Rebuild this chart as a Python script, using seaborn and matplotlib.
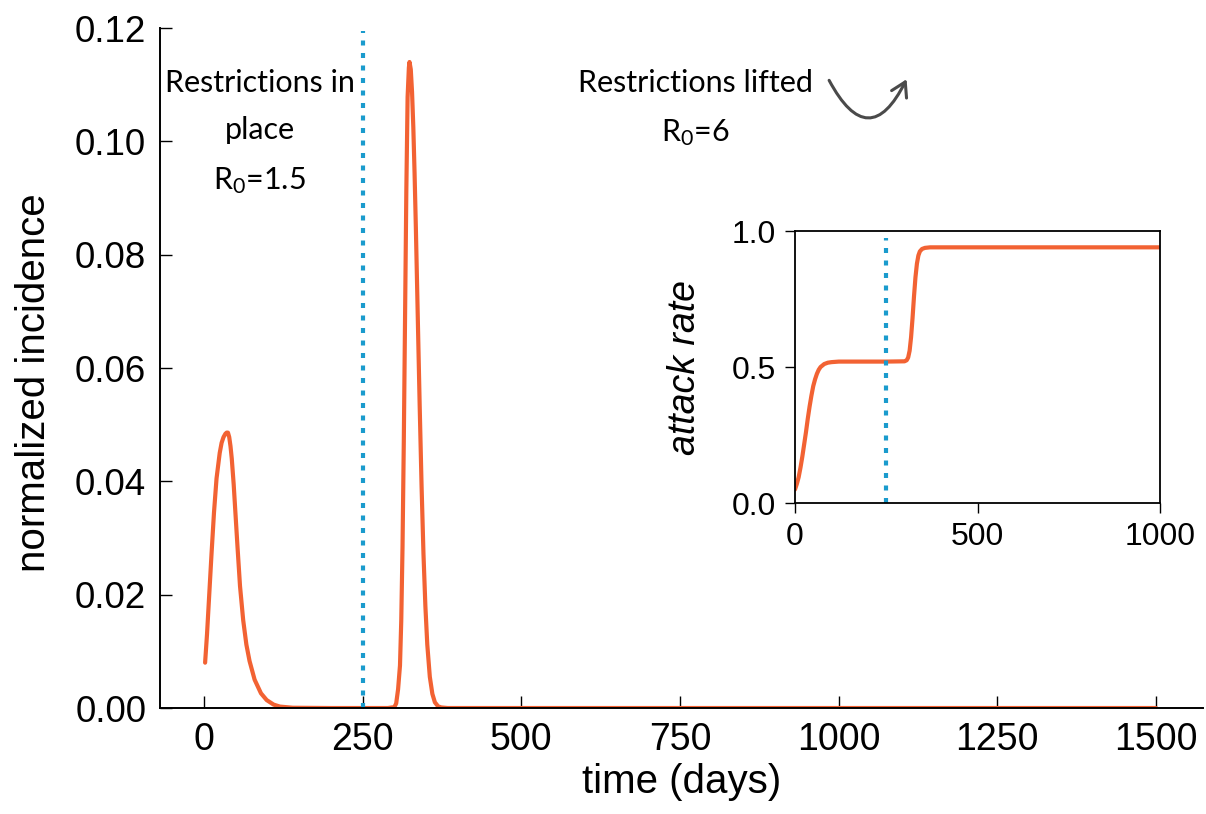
import matplotlib
matplotlib.use("Agg")
import matplotlib.pyplot as plt
import seaborn as sns
import pandas as pd
from matplotlib.patches import FancyArrowPatch

# incidence curve (main panel)
days = [2, 5, 8, 12, 16, 20, 25, 28, 31, 34, 36, 38, 40, 42, 44, 47, 50, 53,
        57, 62, 67, 72, 80, 90, 99, 110, 120, 140, 200, 250, 290, 296, 300,
        303, 306, 309, 311, 313, 315, 317, 319, 321, 323, 324, 326, 328, 330,
        332, 334, 337, 340, 343, 346, 349, 352, 356, 360, 364, 369, 374, 384,
        400, 500, 1000, 1500]
incidence = [0.0080, 0.0130, 0.0190, 0.0270, 0.0345, 0.0405, 0.0450, 0.0468,
             0.0478, 0.0484, 0.0486, 0.0486, 0.0478, 0.0462, 0.0440, 0.0395,
             0.0340, 0.0285, 0.0215, 0.0155, 0.0112, 0.0083, 0.0050, 0.0026,
             0.0014, 0.0006, 0.00025, 0.00005, 0.0, 0.0, 0.0, 0.0001, 0.00014,
             0.0008, 0.0033, 0.0075, 0.0154, 0.0284, 0.0469, 0.0691, 0.0913,
             0.1078, 0.1130, 0.1140, 0.1127, 0.1087, 0.1025, 0.0943, 0.0848,
             0.0691, 0.0535, 0.0392, 0.0272, 0.0180, 0.0112, 0.0055, 0.0025,
             0.0010, 0.0003, 0.0001, 0.0, 0.0, 0.0, 0.0, 0.0]

# cumulative attack rate (inset)
days_ar = [0, 5, 10, 15, 20, 25, 30, 35, 40, 45, 50, 55, 60, 65, 70, 80, 90,
           100, 120, 250, 300, 306, 310, 314, 318, 322, 326, 330, 334, 338,
           342, 348, 356, 370, 1000]
attack_rate = [0.05, 0.07, 0.095, 0.13, 0.17, 0.215, 0.26, 0.31, 0.355,
               0.395, 0.43, 0.455, 0.475, 0.49, 0.50, 0.511, 0.516, 0.518,
               0.52, 0.52, 0.521, 0.525, 0.535, 0.56, 0.61, 0.68, 0.76, 0.83,
               0.88, 0.91, 0.925, 0.934, 0.938, 0.94, 0.94]

lift_day = 250
x_ticks = [0, 250, 500, 750, 1000, 1250, 1500]
y_ticks = [0.00, 0.02, 0.04, 0.06, 0.08, 0.10, 0.12]
inset_x_ticks = [0, 500, 1000]
inset_y_ticks = [0.0, 0.5, 1.0]

orange = "#f26233"
blue = "#1a9bcd"

sns.set_style("ticks")
plt.rcParams['font.family'] = ['Liberation Sans', 'DejaVu Sans']
plt.rcParams['text.color'] = 'black'
plt.rcParams['axes.labelcolor'] = 'black'
plt.rcParams['mathtext.fontset'] = 'custom'
plt.rcParams['mathtext.rm'] = 'Lato'
plt.rcParams['mathtext.it'] = 'Lato:italic'

df = pd.DataFrame({"time": days, "inc": incidence})
df_ar = pd.DataFrame({"time": days_ar, "ar": attack_rate})

fig = plt.figure(figsize=(12.06, 8.14), dpi=100)
ax = fig.add_axes([0.1327, 0.1302, 0.8648, 0.8354])

sns.lineplot(data=df, x="time", y="inc", color=orange, lw=3, ax=ax)
ax.axvline(lift_day, ymax=0.995, color=blue, lw=3, linestyle=(0, (1.2, 1.8)))

ax.set_xlim(-69, 1574)
ax.set_ylim(0, 0.12)
ax.set_xticks(x_ticks)
ax.set_yticks(y_ticks)
ax.set_yticklabels([f"{v:.2f}" for v in y_ticks])
ax.tick_params(axis="both", direction="in", length=8.5, width=1.0, colors="black")
ax.tick_params(axis="x", pad=10, labelsize=27)
ax.tick_params(axis="y", pad=10, labelsize=26.5)
for s in ["top", "right"]:
    ax.spines[s].set_visible(False)
for s in ["left", "bottom"]:
    ax.spines[s].set_linewidth(1.4)
    ax.spines[s].set_color("black")
ax.set_xlabel("time (days)", fontsize=29, labelpad=4)
ax.set_ylabel("normalized incidence", fontsize=29)
ax.yaxis.set_label_coords(-0.103, 0.479)

ax.text(88, 0.1128, "Restrictions in\nplace\nR$_0$=1.5", ha="center", va="top",
        fontsize=22, family="Lato", linespacing=1.85)
ax.text(774, 0.1128, "Restrictions lifted\nR$_0$=6", ha="center", va="top",
        fontsize=22, family="Lato", linespacing=1.85)

arrow = FancyArrowPatch((983, 0.1112), (1109, 0.1114),
                        connectionstyle="arc3,rad=1.0",
                        arrowstyle="->,head_length=10,head_width=6",
                        color="#4a4a4a", lw=2.2)
ax.add_patch(arrow)

# inset: attack rate
ins = fig.add_axes([0.6592, 0.382, 0.3027, 0.3342])
sns.lineplot(data=df_ar, x="time", y="ar", color=orange, lw=3, ax=ins)
ins.axvline(lift_day, ymax=0.975, color=blue, lw=3, linestyle=(0, (1.2, 1.8)))
ins.set_xlim(0, 1000)
ins.set_ylim(0, 1.0)
ins.set_xticks(inset_x_ticks)
ins.set_yticks(inset_y_ticks)
ins.set_yticklabels([f"{v:.1f}" for v in inset_y_ticks])
ins.tick_params(axis="both", direction="out", length=7.5, width=1.0,
                labelsize=23, colors="black", pad=6)
for s in ins.spines.values():
    s.set_visible(True)
    s.set_linewidth(1.3)
    s.set_color("black")
ins.set_xlabel("")
ins.set_ylabel("attack rate", fontsize=27, style="italic", labelpad=21)

fig.savefig("out.png", dpi=100)
